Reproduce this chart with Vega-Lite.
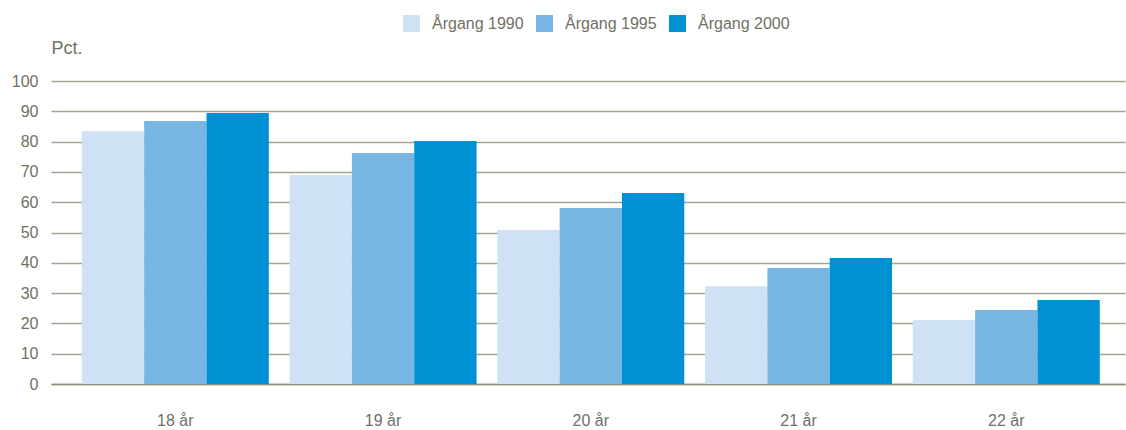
{
  "$schema": "https://vega.github.io/schema/vega-lite/v6.json",
  "autosize": {"type": "none"},
  "width": 1074,
  "height": 303,
  "padding": {"left": 51, "top": 81, "right": 1, "bottom": 46},
  "background": "white",
  "data": {
    "values": [
      {"alder": "18 år", "argang": "Årgang 1990", "pct": 83.4},
      {"alder": "18 år", "argang": "Årgang 1995", "pct": 86.8},
      {"alder": "18 år", "argang": "Årgang 2000", "pct": 89.4},
      {"alder": "19 år", "argang": "Årgang 1990", "pct": 69},
      {"alder": "19 år", "argang": "Årgang 1995", "pct": 76.2},
      {"alder": "19 år", "argang": "Årgang 2000", "pct": 80.2},
      {"alder": "20 år", "argang": "Årgang 1990", "pct": 50.8},
      {"alder": "20 år", "argang": "Årgang 1995", "pct": 58.1},
      {"alder": "20 år", "argang": "Årgang 2000", "pct": 63},
      {"alder": "21 år", "argang": "Årgang 1990", "pct": 32.3},
      {"alder": "21 år", "argang": "Årgang 1995", "pct": 38.3},
      {"alder": "21 år", "argang": "Årgang 2000", "pct": 41.6},
      {"alder": "22 år", "argang": "Årgang 1990", "pct": 21.1},
      {"alder": "22 år", "argang": "Årgang 1995", "pct": 24.4},
      {"alder": "22 år", "argang": "Årgang 2000", "pct": 27.7}
    ]
  },
  "mark": {"type": "bar"},
  "encoding": {
    "x": {
      "field": "alder",
      "type": "nominal",
      "sort": null,
      "scale": {"paddingInner": 0.1, "paddingOuter": 0.135, "align": 0.55},
      "axis": {
        "title": null,
        "labelAngle": 0,
        "labelFontSize": 16,
        "labelColor": "#707064",
        "labelFont": "Liberation Sans",
        "labelPadding": 28,
        "ticks": false,
        "domainColor": "#8f8f80",
        "domainWidth": 1.5,
        "grid": false
      }
    },
    "xOffset": {"field": "argang", "type": "nominal"},
    "y": {
      "field": "pct",
      "type": "quantitative",
      "scale": {"domain": [0, 100], "nice": false},
      "axis": {
        "values": [0, 10, 20, 30, 40, 50, 60, 70, 80, 90, 100],
        "title": "Pct.",
        "titleAngle": 0,
        "titleAlign": "left",
        "titleBaseline": "alphabetic",
        "titleX": 0,
        "titleY": -28,
        "titleFontSize": 18,
        "titleFontWeight": "normal",
        "titleColor": "#707064",
        "titleFont": "Liberation Sans",
        "labelFontSize": 16,
        "labelColor": "#707064",
        "labelFont": "Liberation Sans",
        "labelPadding": 13,
        "ticks": false,
        "domain": false,
        "grid": true,
        "gridColor": "#a3a394",
        "gridWidth": 1.5
      }
    },
    "color": {
      "field": "argang",
      "type": "nominal",
      "scale": {"range": ["#cfe2f5", "#77b5e3", "#0090d4"]},
      "legend": {
        "title": null,
        "orient": "none",
        "direction": "horizontal",
        "legendX": 352,
        "legendY": -66,
        "symbolType": "square",
        "symbolSize": 289,
        "symbolStrokeWidth": 0,
        "labelFontSize": 16,
        "labelColor": "#707064",
        "labelFont": "Liberation Sans",
        "labelOffset": 12,
        "columnPadding": 12
      }
    }
  },
  "config": {
    "view": {"stroke": null},
    "axisY": {"zindex": 0}
  }
}
